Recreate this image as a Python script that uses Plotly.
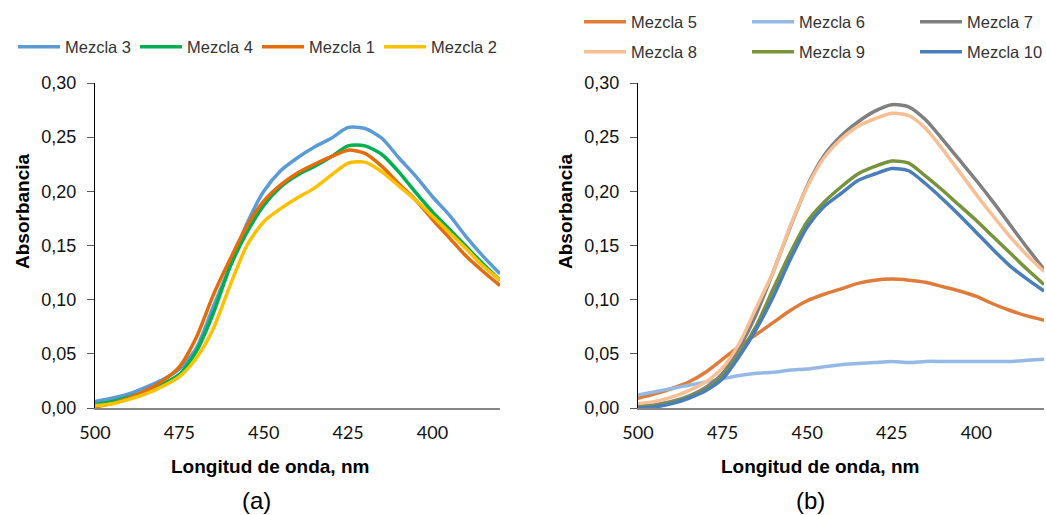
import plotly.graph_objects as go

# ---------------- data ----------------
wavelength = [500, 495, 490, 485, 480, 475, 470, 465, 460, 455, 450, 445, 440,
              435, 430, 425, 420, 415, 410, 405, 400, 395, 390, 385, 380]

# panel (a)
mezcla3 = [0.006, 0.009, 0.013, 0.019, 0.026, 0.036, 0.055, 0.093, 0.131, 0.170, 0.200, 0.219, 0.231,
           0.241, 0.249, 0.259, 0.258, 0.249, 0.231, 0.214, 0.195, 0.178, 0.158, 0.140, 0.124]
mezcla4 = [0.003, 0.006, 0.010, 0.015, 0.022, 0.031, 0.052, 0.087, 0.130, 0.162, 0.187, 0.204, 0.215,
           0.223, 0.232, 0.242, 0.242, 0.234, 0.218, 0.199, 0.181, 0.165, 0.149, 0.133, 0.118]
mezcla1 = [0.001, 0.004, 0.009, 0.016, 0.025, 0.038, 0.065, 0.104, 0.137, 0.168, 0.191, 0.206, 0.217,
           0.225, 0.232, 0.238, 0.235, 0.223, 0.207, 0.192, 0.174, 0.157, 0.140, 0.126, 0.113]
mezcla2 = [0.002, 0.004, 0.008, 0.013, 0.020, 0.029, 0.046, 0.073, 0.113, 0.150, 0.172, 0.184, 0.194,
           0.203, 0.215, 0.226, 0.227, 0.218, 0.205, 0.192, 0.177, 0.162, 0.147, 0.131, 0.118]

# panel (b)
mezcla5 = [0.009, 0.013, 0.018, 0.024, 0.033, 0.045, 0.057, 0.068, 0.079, 0.090, 0.099, 0.105, 0.110,
           0.115, 0.118, 0.119, 0.118, 0.116, 0.112, 0.108, 0.103, 0.096, 0.090, 0.085, 0.081]
mezcla6 = [0.012, 0.015, 0.018, 0.021, 0.024, 0.027, 0.030, 0.032, 0.033, 0.035, 0.036, 0.038, 0.040,
           0.041, 0.042, 0.043, 0.042, 0.043, 0.043, 0.043, 0.043, 0.043, 0.043, 0.044, 0.045]
mezcla7 = [0.002, 0.003, 0.006, 0.011, 0.019, 0.032, 0.056, 0.087, 0.126, 0.167, 0.205, 0.233, 0.251,
           0.264, 0.274, 0.280, 0.278, 0.266, 0.248, 0.229, 0.210, 0.190, 0.169, 0.148, 0.128]
mezcla8 = [0.004, 0.006, 0.010, 0.016, 0.024, 0.037, 0.060, 0.093, 0.126, 0.168, 0.204, 0.231, 0.248,
           0.260, 0.267, 0.272, 0.270, 0.258, 0.239, 0.218, 0.197, 0.177, 0.158, 0.141, 0.126]
mezcla9 = [0.001, 0.002, 0.005, 0.010, 0.017, 0.029, 0.050, 0.076, 0.110, 0.143, 0.172, 0.190, 0.204,
           0.216, 0.223, 0.228, 0.226, 0.214, 0.201, 0.187, 0.173, 0.158, 0.143, 0.128, 0.114]
mezcla10 = [0.000, 0.001, 0.004, 0.009, 0.016, 0.027, 0.048, 0.073, 0.103, 0.137, 0.167, 0.186, 0.198,
            0.210, 0.216, 0.221, 0.219, 0.207, 0.193, 0.178, 0.162, 0.146, 0.131, 0.119, 0.108]

x_tickvals = [500, 475, 450, 425, 400]

# ---------------- figure ----------------
W, H = 1046, 515


def fx(p):
    return p / W


def fy(p):
    return 1 - p / H


LINE_W = 3.5
fig = go.Figure()

left_series = [("Mezcla 3", mezcla3, "#5B9BD5"),
               ("Mezcla 4", mezcla4, "#00B050"),
               ("Mezcla 1", mezcla1, "#E46C0A"),
               ("Mezcla 2", mezcla2, "#FFC000")]
for name, vals, color in left_series:
    fig.add_trace(go.Scatter(x=wavelength, y=vals, name=name, mode="lines",
                             line=dict(color=color, width=LINE_W, shape="spline", smoothing=0.7),
                             xaxis="x", yaxis="y", legend="legend"))

right_series = [("Mezcla 5", mezcla5, "#E07B39", "legend2"),
                ("Mezcla 6", mezcla6, "#95B9E6", "legend2"),
                ("Mezcla 7", mezcla7, "#808080", "legend2"),
                ("Mezcla 8", mezcla8, "#F9BF94", "legend3"),
                ("Mezcla 9", mezcla9, "#77933C", "legend3"),
                ("Mezcla 10", mezcla10, "#4A7EBB", "legend3")]
for name, vals, color, lg in right_series:
    fig.add_trace(go.Scatter(x=wavelength, y=vals, name=name, mode="lines",
                             line=dict(color=color, width=LINE_W, shape="spline", smoothing=0.7),
                             xaxis="x2", yaxis="y2", legend=lg))

tick_font_x = dict(family="Lato, Liberation Sans, Arial", size=18, color="#111111")
tick_font_y = dict(family="Liberation Sans, Arial", size=18, color="#111111")
leg_font = dict(family="Liberation Sans, Arial", size=16.5, color="#333333")

ydom = [fy(408), fy(83)]


def xaxis_cfg(dom, anchor):
    return dict(domain=dom, anchor=anchor, range=[500, 380], tickvals=x_tickvals,
                ticks="", showline=True, linecolor="#868686", linewidth=1.5,
                showgrid=False, zeroline=False, tickfont=tick_font_x,
                layer="below traces", ticklabelstandoff=8, fixedrange=True)


def yaxis_cfg(anchor):
    return dict(domain=ydom, anchor=anchor, range=[0, 0.30], tick0=0, dtick=0.05,
                tickformat=".2f", ticks="outside", ticklen=7, tickcolor="#595959",
                tickwidth=1, showline=True, linecolor="#000000", linewidth=1,
                showgrid=False, zeroline=False, tickfont=tick_font_y,
                layer="below traces", ticklabelstandoff=7, fixedrange=True)


legend_common = dict(orientation="h", xanchor="left", yanchor="middle",
                     entrywidthmode="pixels", font=leg_font, itemwidth=42,
                     bgcolor="rgba(0,0,0,0)", borderwidth=0)

fig.update_layout(
    width=W, height=H,
    margin=dict(l=0, r=0, t=0, b=0, autoexpand=False),
    paper_bgcolor="white", plot_bgcolor="white",
    separators=",.",
    xaxis=xaxis_cfg([fx(95), fx(500)], "y"),
    yaxis=yaxis_cfg("x"),
    xaxis2=xaxis_cfg([fx(638), fx(1044)], "y2"),
    yaxis2=yaxis_cfg("x2"),
    legend=dict(x=fx(13), y=fy(47), entrywidth=65, **legend_common),
    legend2=dict(x=fx(579), y=fy(22), entrywidth=111, **legend_common),
    legend3=dict(x=fx(579), y=fy(52), entrywidth=111, **legend_common),
    showlegend=True,
)

title_font = dict(family="Liberation Sans, Arial", size=19, color="#000000")
label_font = dict(family="Liberation Sans, Arial", size=24, color="#000000")
annots = [
    dict(text="<b>Longitud de onda, nm</b>", x=fx(270), y=fy(466), font=title_font),
    dict(text="<b>Longitud de onda, nm</b>", x=fx(820), y=fy(466), font=title_font),
    dict(text="<b>Absorbancia</b>", x=fx(22), y=fy(211), textangle=-90, font=title_font),
    dict(text="<b>Absorbancia</b>", x=fx(565), y=fy(211), textangle=-90, font=title_font),
    dict(text="(a)", x=fx(256), y=fy(500), font=label_font),
    dict(text="(b)", x=fx(810), y=fy(500), font=label_font),
]
for a in annots:
    fig.add_annotation(xref="paper", yref="paper", showarrow=False,
                       xanchor="center", yanchor="middle", **a)

# remove the default page margin so the 1046x515 figure fills the window exactly
fig.write_html("out.html",
               config={"displayModeBar": False, "staticPlot": True},
               post_script="document.body.style.margin='0px';document.body.style.overflow='hidden';")
